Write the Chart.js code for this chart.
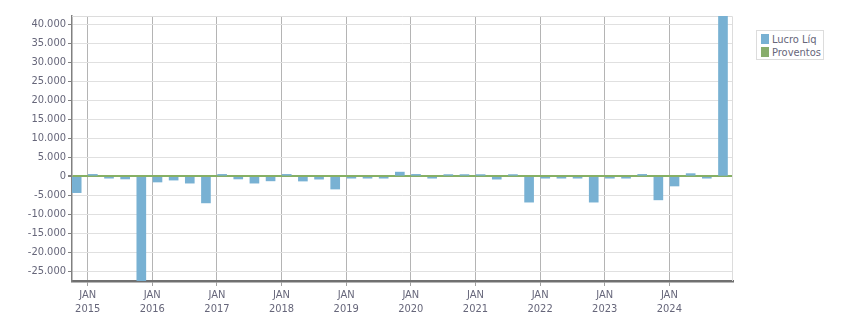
<!DOCTYPE html>
<html>
<head>
<meta charset="utf-8">
<script src="https://cdn.jsdelivr.net/npm/chart.js@4/dist/chart.umd.min.js"></script>
<style>
  body { margin: 0; background: #fff; }
  #wrap { position: relative; width: 851px; height: 313px; }
  #legend {
    position: absolute; left: 756px; top: 30px; width: 66px; height: 28px;
    border: 1px solid #dcdcdc; background: #fff;
    font: 11px "DejaVu Sans Condensed", "DejaVu Sans", sans-serif; color: #66667a;
  }
  #legend div { position: absolute; left: 4px; height: 13px; line-height: 13px; white-space: nowrap; }
  #legend span { display: inline-block; width: 8px; height: 10px; margin-right: 3px; vertical-align: -1px; }
</style>
</head>
<body>
<div id="wrap">
  <canvas id="graph" width="851" height="313"></canvas>
  <div id="legend">
    <div style="top:2px"><span style="background:#78b1d3"></span>Lucro Líq</div>
    <div style="top:15px"><span style="background:#88ad6c"></span>Proventos</div>
  </div>
</div>
<script>
// quarterly results, one bar per quarter (Q4 2014 .. Q4 2024)
const lucroLiq = [
  -4300, 500, -500, -700, -28500, -1500, -1000, -1800, -7000, 500,
  -700, -1800, -1200, 500, -1250, -750, -3350, -500, -500, -500,
  1100, 500, -500, 450, 450, 450, -750, 450, -6800, -500,
  -500, -500, -6800, -500, -500, 500, -6200, -2550, 700, -500,
  45000
];
const proventos = lucroLiq.map(() => 0);
const years = ['2015', '2016', '2017', '2018', '2019', '2020', '2021', '2022', '2023', '2024'];
const yearPos = [0.68, 4.68, 8.68, 12.68, 16.68, 20.68, 24.68, 28.68, 32.68, 36.68];
const yTicks = [-25000, -20000, -15000, -10000, -5000, 0, 5000, 10000, 15000, 20000, 25000, 30000, 35000, 40000];

const font = { family: '"DejaVu Sans Condensed", "DejaVu Sans", sans-serif', size: 11 };
const textColor = '#66667a';

function fmt(v) {
  const s = Math.abs(v).toString().replace(/\B(?=(\d{3})+(?!\d))/g, '.');
  return (v < 0 ? '-' : '') + s;
}

const frame = {
  id: 'frame',
  beforeDatasetsDraw(chart) {
    const a = chart.chartArea, c = chart.ctx;
    c.save();
    c.strokeStyle = '#dcdcdc';
    c.lineWidth = 1;
    c.beginPath();
    c.moveTo(a.left, a.top + 0.5);
    c.lineTo(a.right - 0.5, a.top + 0.5);
    c.lineTo(a.right - 0.5, a.bottom);
    c.stroke();
    c.restore();
  }
};

new Chart(document.getElementById('graph'), {
  type: 'bar',
  plugins: [frame],
  data: {
    datasets: [
      {
        label: 'Lucro Líq',
        data: lucroLiq.map((v, i) => ({ x: i, y: v })),
        backgroundColor: '#78b1d3',
        barThickness: 9,
        grouped: false
      },
      {
        label: 'Proventos',
        data: proventos.map((v, i) => ({ x: i, y: v })),
        backgroundColor: '#88ad6c',
        barThickness: 9,
        grouped: false
      }
    ]
  },
  options: {
    responsive: false,
    animation: false,
    layout: { padding: { top: 16, right: 118, left: 0, bottom: 0 } },
    plugins: { legend: { display: false }, tooltip: { enabled: false } },
    scales: {
      x: {
        type: 'linear',
        offset: false,
        min: -0.29,
        max: 40.62,
        afterBuildTicks: s => { s.ticks = yearPos.map(v => ({ value: v })); },
        afterFit: s => { s.height = 32; },
        ticks: {
          autoSkip: false,
          maxRotation: 0,
          padding: 3,
          font: font,
          color: textColor,
          callback: (v, i) => ['JAN', years[i]]
        },
        grid: { offset: false, color: '#b4b4b4', tickLength: 5, tickColor: '#a0a0a0' },
        border: { color: '#707070', width: 2.5 }
      },
      y: {
        min: -27550,
        max: 42180,
        afterBuildTicks: s => { s.ticks = yTicks.map(v => ({ value: v })); },
        afterFit: s => { s.width = 72; },
        ticks: {
          padding: 2,
          font: font,
          color: textColor,
          callback: v => fmt(v)
        },
        grid: {
          color: c => c.tick && c.tick.value === 0 ? '#86b064' : '#e0e0e0',
          lineWidth: c => c.tick && c.tick.value === 0 ? 2 : 1,
          tickLength: 4,
          tickColor: '#808080'
        },
        border: { color: '#808080', width: 1.5 }
      }
    }
  }
});
</script>
</body>
</html>
